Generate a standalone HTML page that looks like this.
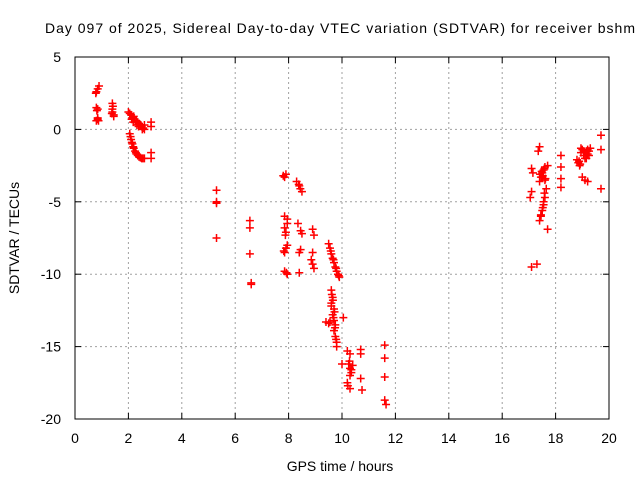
<!DOCTYPE html>
<html><head><meta charset="utf-8"><style>
body{margin:0;background:#fff;width:640px;height:480px;overflow:hidden}
svg{font-family:"Liberation Sans",sans-serif;font-size:14px}
</style></head><body>
<svg id="chart" width="640" height="480">
<text x="340" y="33" text-anchor="middle" textLength="590" lengthAdjust="spacing">Day 097 of 2025, Sidereal Day-to-day VTEC variation (SDTVAR) for receiver bshm</text>
<text x="340" y="471" text-anchor="middle">GPS time / hours</text>
<text x="19" y="238" text-anchor="middle" transform="rotate(-90 19 238)">SDTVAR / TECUs</text>
<g id="grid"></g><g id="pts"></g>
<rect x="75" y="57" width="534" height="362" fill="none" stroke="#000"/>
</svg>
<script>
const xTicks=[0,2,4,6,8,10,12,14,16,18,20];
const yTicks=[5,0,-5,-10,-15,-20];
const pointX=[0.8,0.85,0.9,0.85,0.8,0.85,0.8,0.85,0.78,0.82,0.88,1.4,1.4,1.45,1.4,1.45,1.42,1.38,
2.0,2.1,2.15,2.2,2.3,2.35,2.4,2.5,2.55,2.6,2.05,2.1,2.15,2.2,2.25,2.3,2.4,2.5,2.6,2.85,2.85,2.85,2.85,
2.05,2.12,2.18,2.25,2.32,2.38,2.45,2.52,2.6,2.08,2.13,2.18,2.28,2.35,2.45,2.55,
5.3,5.3,5.3,5.3,6.55,6.55,6.55,6.6,6.6,
7.85,7.9,7.85,7.95,7.85,7.9,7.95,7.85,7.9,7.95,7.85,7.95,7.8,7.88,7.82,7.92,
8.3,8.4,8.5,8.35,8.45,8.5,8.4,8.45,8.4,8.9,8.95,8.9,8.85,8.9,8.95,8.38,8.44,
9.5,9.55,9.6,9.65,9.7,9.75,9.8,9.85,9.9,9.58,9.68,9.78,9.88,
9.6,9.65,9.6,9.7,9.65,9.7,9.75,9.7,9.75,9.8,9.4,9.5,9.8,10.05,10.0,9.62,9.66,9.72,9.68,9.74,9.78,9.6,9.55,
10.2,10.3,10.25,10.3,10.35,10.3,10.4,10.2,10.3,10.7,10.7,10.7,10.75,10.28,10.35,10.22,
11.6,11.6,11.6,11.6,11.65,
17.1,17.15,17.1,17.05,17.1,17.3,17.4,17.35,17.45,17.5,17.55,17.6,17.7,17.4,17.5,17.6,17.65,17.6,17.55,17.5,17.45,17.4,17.7,
17.42,17.48,17.52,17.58,17.62,17.45,17.55,17.58,17.52,
18.2,18.2,18.2,18.2,18.8,18.85,18.9,19.0,19.05,19.1,19.2,19.25,19.0,19.1,19.2,19.15,19.3,19.7,19.7,19.7,
18.95,19.05,19.15,19.25,19.1,19.2,18.95,18.88,18.92];
const pointY=[2.6,2.8,3.0,1.4,1.5,0.7,0.6,0.8,2.5,1.3,0.6,1.8,1.4,1.0,1.2,0.9,1.6,1.1,
1.2,1.0,0.8,0.9,0.6,0.5,0.4,0.2,0.1,0.0,-0.3,-0.7,-1.0,-1.3,-1.5,-1.7,-1.9,-2.0,-2.0,0.5,0.2,-1.6,-2.0,
1.1,0.7,0.5,0.6,0.3,0.2,0.3,0.0,0.3,-0.5,-0.9,-1.2,-1.6,-1.8,-1.95,-2.0,
-4.2,-5.0,-5.1,-7.5,-6.3,-6.8,-8.6,-10.6,-10.7,
-3.3,-3.1,-6.0,-6.2,-6.8,-7.1,-6.5,-8.5,-8.2,-8.0,-9.8,-10.0,-3.2,-7.3,-8.4,-9.9,
-3.6,-3.9,-4.3,-6.5,-7.0,-7.2,-8.5,-8.3,-9.9,-6.9,-7.3,-8.5,-9.0,-9.3,-9.6,-3.8,-4.1,
-7.9,-8.2,-8.6,-8.9,-9.2,-9.5,-9.8,-10.0,-10.2,-8.4,-9.0,-9.6,-10.1,
-11.1,-11.6,-12.0,-12.4,-12.8,-13.2,-13.5,-13.9,-14.3,-14.7,-13.3,-13.4,-15.0,-13.0,-16.2,-11.4,-11.8,-12.6,-13.0,-13.7,-14.5,-12.2,-13.3,
-15.3,-15.5,-16.2,-16.5,-16.8,-17.0,-16.3,-17.5,-17.9,-15.2,-15.5,-17.2,-18.0,-16.0,-16.6,-17.7,
-14.9,-15.8,-17.1,-18.7,-19.0,
-2.7,-3.0,-4.3,-4.7,-9.5,-9.3,-1.2,-1.5,-3.3,-3.0,-2.8,-2.6,-2.5,-3.6,-3.3,-3.5,-4.1,-4.7,-5.2,-5.6,-6.0,-6.3,-6.9,
-3.1,-2.9,-3.2,-2.7,-3.4,-5.9,-5.0,-4.4,-5.4,
-1.8,-2.6,-3.4,-4.0,-2.1,-2.3,-2.5,-1.4,-1.5,-1.6,-1.4,-1.8,-3.3,-3.5,-3.6,-2.0,-1.3,-0.4,-1.4,-4.1,
-1.6,-1.8,-1.5,-1.5,-2.0,-1.7,-1.3,-2.2,-2.4];
const X=v=>75+(v-0)*(534/20), Y=v=>57+(5-v)*(362/25);
const ns="http://www.w3.org/2000/svg";
const grid=document.getElementById('grid'), pts=document.getElementById('pts');
function mk(t,a,p){const e=document.createElementNS(ns,t);for(const k in a)e.setAttribute(k,a[k]);p.appendChild(e);return e;}
xTicks.forEach(t=>{const x=X(t);
 if(t>0&&t<20){const l=mk('line',{x1:x,x2:x,y1:57,y2:419,stroke:'#a0a0a0','stroke-dasharray':'2,3'},grid);
 
 }
 mk('line',{x1:x,x2:x,y1:419,y2:413,stroke:'#000'},grid);mk('line',{x1:x,x2:x,y1:57,y2:63,stroke:'#000'},grid);
 const tx=mk('text',{x:x,y:443,'text-anchor':'middle'},grid);tx.textContent=t;
 
 });
yTicks.forEach(t=>{const y=Y(t);
 if(t<5&&t>-20){const l=mk('line',{x1:75,x2:609,y1:y,y2:y,stroke:'#a0a0a0','stroke-dasharray':'2,3'},grid);
 
 }
 mk('line',{x1:75,x2:81,y1:y,y2:y,stroke:'#000'},grid);mk('line',{x1:609,x2:603,y1:y,y2:y,stroke:'#000'},grid);
 const tx=mk('text',{x:61,y:y+5,'text-anchor':'end'},grid);tx.textContent=t;
 
 });
pointX.forEach((v,i)=>{const x=X(v),y=Y(pointY[i]);
 const p=mk('path',{d:`M${x-4},${y}h8M${x},${y-4}v8`,stroke:'#f00','stroke-width':1.5},pts);
 
 });
</script>
</body></html>
